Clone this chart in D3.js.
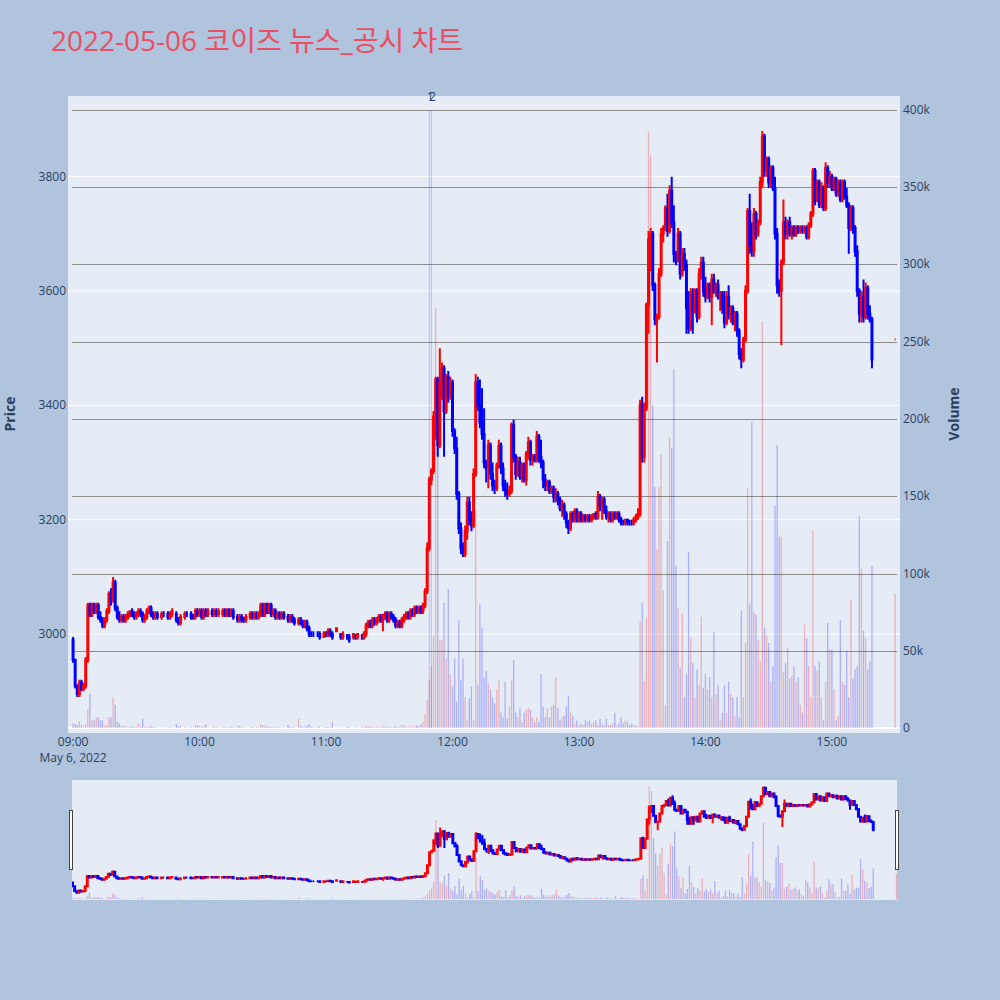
<!DOCTYPE html>
<html>
<head>
<meta charset="utf-8">
<script src="https://cdn.jsdelivr.net/npm/d3@7"></script>
<style>
  body { margin: 0; background: #b0c4de; }
  text { font-family: 'Open Sans', 'Noto Sans CJK KR', sans-serif; }
</style>
</head>
<body>
<script>

// Minute candles from 09:00 (index 0) to 15:19, null = no trade in that minute

var opens = [
	2990,2955,2910,2895,2915,2905,2910,2955,3050,3035,
	3050,3040,3050,3030,3025,3015,3025,3040,3070,3060,
	3090,3045,3030,3025,3030,3025,3030,3035,3040,3035,
	3030,3035,3040,3035,3025,3030,3040,3045,3035,3030,
	3035,null,3030,3035,null,3035,3030,3035,null,3035,
	3025,3020,null,3030,3035,null,3035,3030,3030,3040,
	3035,3040,3030,3040,3035,null,3040,3035,3040,3035,
	null,3035,3040,3035,3040,3035,3040,null,3030,3025,
	3030,3025,3025,null,3030,3035,3030,3035,3030,3035,
	3050,3035,3050,3040,3050,3035,3040,3030,3035,3030,
	3035,null,3030,3025,3030,3025,null,3020,3025,3020,
	3015,3020,3010,3000,3000,null,3000,3000,null,2995,
	3000,3000,3005,3000,null,3005,null,3000,2995,null,
	2995,2995,null,2995,2995,2995,null,2995,2995,3000,
	3015,3020,3015,3025,3020,3025,3030,3025,3030,3035,
	3025,3035,3030,3025,3015,3020,3015,3025,3030,3035,
	3030,3040,3035,3045,3040,3045,3040,3050,3075,3150,
	3270,3285,3380,3445,3330,3440,3465,3390,3450,3415,
	3440,3355,3325,3245,3185,3150,3140,3180,3230,3200,
	3190,3280,3440,3400,3370,3350,3300,3290,3330,3280,
	3260,3255,3295,3330,3290,3260,3250,3245,3250,3365,
	3310,3280,3300,3275,3295,3270,3315,3335,3305,3310,
	3305,3345,3310,3300,3270,3260,3265,3250,3255,3240,
	3245,3235,3220,3225,3210,3195,3185,3210,3200,3215,
	3205,3210,3200,3205,3200,3205,3200,3205,3210,3205,
	3240,3225,3235,3215,3205,3210,3200,3210,3205,3210,
	3200,3195,3195,3200,3195,3195,3195,3200,3205,3210,
	3400,3310,3395,3575,3690,3700,3610,3550,3555,3630,
	3700,3710,3745,3705,3775,3720,3665,3655,3700,3630,
	3665,3645,3570,3535,3595,3565,3600,3555,3630,3650,
	3600,3590,3610,3590,3620,3600,3610,3590,3595,3570,
	3545,3590,3560,3570,3545,3560,3530,3490,3480,3515,
	3600,3740,3680,3670,3735,3700,3720,3790,3870,3810,
	3830,3790,3815,3780,3700,3610,3600,3650,3720,3700,
	3720,3700,3710,3700,3710,3705,3710,3705,3710,3695,
	3715,3735,3810,3760,3790,3750,3780,3745,3815,3790,
	3800,3780,3795,3770,3790,3760,3790,3765,3750,3710,
	3745,3710,3670,3600,3560,3590,3555,3605,3560,3550
];

var highs = [
	2995,2955,2910,2920,2920,2915,2960,3055,3055,3055,
	3055,3055,3055,3040,3030,3030,3045,3075,3080,3100,
	3095,3050,3040,3035,3035,3035,3040,3040,3045,3040,
	3040,3045,3045,3040,3035,3045,3050,3050,3040,3040,
	3040,null,3040,3040,null,3040,3040,3045,null,3040,
	3030,3035,null,3040,3040,null,3040,3035,3045,3045,
	3045,3045,3045,3045,3045,null,3045,3045,3045,3045,
	null,3045,3045,3045,3045,3045,3045,null,3035,3035,
	3035,3030,3035,null,3040,3040,3040,3040,3040,3055,
	3055,3055,3055,3055,3055,3045,3045,3040,3040,3040,
	3040,null,3035,3035,3035,3030,null,3030,3030,3025,
	3025,3025,3015,3005,3005,null,3005,3005,null,3005,
	3005,3010,3010,3005,null,3010,null,3000,3005,null,
	3000,3000,null,3000,3000,3000,null,3000,3005,3020,
	3025,3025,3030,3030,3030,3035,3035,3035,3040,3040,
	3040,3040,3035,3030,3025,3025,3030,3035,3040,3040,
	3045,3045,3050,3050,3050,3050,3055,3080,3160,3275,
	3290,3390,3450,3450,3500,3475,3470,3455,3460,3450,
	3445,3360,3345,3250,3195,3160,3190,3240,3240,3215,
	3290,3455,3450,3445,3430,3395,3305,3340,3335,3300,
	3270,3300,3340,3335,3300,3270,3265,3260,3370,3375,
	3315,3310,3310,3300,3300,3320,3345,3340,3315,3315,
	3355,3350,3340,3305,3280,3270,3270,3260,3260,3255,
	3250,3240,3235,3230,3215,3200,3215,3215,3220,3220,
	3215,3215,3210,3210,3210,3210,3210,3210,3215,3250,
	3245,3240,3240,3225,3215,3215,3215,3215,3215,3215,
	3205,3200,3200,3200,3200,3200,3205,3210,3220,3410,
	3415,3405,3580,3705,3710,3705,3615,3560,3640,3710,
	3715,3750,3770,3785,3800,3750,3670,3710,3705,3675,
	3675,3655,3600,3605,3605,3605,3605,3640,3660,3660,
	3625,3615,3615,3630,3630,3615,3620,3600,3600,3600,
	3600,3610,3575,3575,3565,3565,3535,3500,3520,3610,
	3745,3770,3720,3745,3740,3725,3800,3880,3875,3835,
	3835,3820,3820,3800,3710,3620,3655,3760,3730,3725,
	3730,3715,3715,3715,3715,3715,3715,3715,3715,3720,
	3740,3815,3815,3795,3795,3790,3785,3825,3820,3810,
	3805,3800,3800,3795,3795,3795,3795,3780,3755,3750,
	3750,3715,3680,3605,3600,3620,3615,3610,3575,3555
];

var lows = [
	2950,2905,2890,2890,2900,2900,2905,2950,3030,3030,
	3035,3035,3025,3020,3010,3010,3020,3035,3050,3055,
	3040,3025,3020,3020,3020,3020,3025,3030,3030,3025,
	3025,3030,3030,3020,3020,3025,3035,3030,3025,3025,
	3025,null,3025,3030,null,3025,3025,3030,null,3020,
	3015,3015,null,3025,3030,null,3025,3025,3025,3030,
	3030,3025,3025,3030,3030,null,3030,3030,3030,3030,
	null,3030,3030,3030,3030,3030,3025,null,3020,3020,
	3020,3020,3020,null,3025,3025,3025,3025,3025,3030,
	3030,3030,3035,3035,3030,3030,3025,3025,3025,3025,
	3025,null,3020,3020,3020,3015,null,3015,3015,3010,
	3010,3005,2995,2995,2995,null,2995,2990,null,2995,
	2995,2995,2995,2990,null,3005,null,2990,2990,null,
	2990,2985,null,2990,2990,2990,null,2990,2990,2995,
	3010,3010,3010,3015,3015,3020,3020,3005,3025,3020,
	3020,3025,3020,3010,3010,3010,3010,3020,3025,3025,
	3025,3030,3030,3035,3035,3035,3035,3045,3070,3145,
	3260,3280,3340,3310,3325,3410,3310,3385,3405,3410,
	3345,3315,3235,3175,3140,3135,3135,3165,3190,3180,
	3185,3275,3390,3360,3340,3290,3265,3255,3270,3250,
	3245,3250,3290,3280,3250,3240,3235,3240,3245,3300,
	3270,3275,3270,3265,3265,3260,3305,3295,3295,3300,
	3300,3300,3290,3255,3250,3250,3245,3245,3230,3230,
	3225,3215,3205,3200,3185,3175,3180,3195,3195,3195,
	3195,3195,3195,3195,3195,3195,3195,3200,3200,3200,
	3215,3200,3210,3200,3195,3195,3195,3200,3200,3195,
	3190,3190,3190,3190,3190,3190,3190,3195,3200,3205,
	3300,3300,3390,3525,3635,3600,3540,3475,3550,3625,
	3685,3705,3695,3700,3710,3650,3645,3650,3620,3625,
	3635,3525,3525,3530,3525,3560,3545,3550,3620,3590,
	3580,3585,3580,3540,3595,3590,3585,3565,3560,3535,
	3540,3550,3545,3540,3530,3520,3480,3465,3475,3510,
	3595,3665,3660,3660,3690,3695,3715,3780,3800,3800,
	3780,3780,3775,3690,3595,3590,3505,3645,3690,3690,
	3695,3690,3695,3695,3700,3700,3700,3700,3690,3690,
	3710,3730,3750,3755,3745,3745,3740,3740,3780,3780,
	3775,3775,3765,3765,3755,3755,3760,3745,3665,3705,
	3700,3660,3590,3545,3545,3545,3550,3550,3545,3465
];

var closes = [
	2955,2910,2895,2915,2905,2910,2955,3050,3035,3050,
	3040,3050,3030,3025,3015,3025,3040,3070,3060,3090,
	3045,3030,3025,3030,3025,3030,3035,3040,3035,3030,
	3035,3040,3035,3025,3030,3040,3045,3035,3030,3035,
	3030,null,3035,3035,null,3030,3035,3040,null,3025,
	3020,3030,null,3035,3035,null,3030,3030,3040,3035,
	3040,3030,3040,3035,3040,null,3035,3040,3035,3040,
	null,3040,3035,3040,3035,3040,3030,null,3025,3030,
	3025,3025,3030,null,3035,3030,3035,3030,3035,3050,
	3035,3050,3040,3050,3035,3040,3030,3035,3030,3035,
	3030,null,3025,3030,3025,3020,null,3025,3020,3015,
	3020,3010,3000,3000,3000,null,3000,2995,null,3000,
	3000,3005,3000,2995,null,3010,null,2995,3000,null,
	2995,2990,null,3000,2995,3000,null,2995,3000,3015,
	3020,3015,3025,3020,3025,3030,3025,3030,3035,3025,
	3035,3030,3025,3015,3020,3015,3025,3030,3035,3030,
	3040,3035,3045,3040,3045,3040,3050,3075,3150,3270,
	3285,3380,3445,3330,3440,3465,3390,3450,3415,3440,
	3355,3325,3245,3185,3150,3140,3180,3230,3200,3190,
	3280,3440,3400,3370,3350,3300,3290,3330,3280,3260,
	3255,3295,3330,3290,3260,3250,3245,3250,3365,3310,
	3280,3300,3275,3295,3270,3315,3335,3305,3310,3305,
	3345,3310,3300,3270,3260,3265,3250,3255,3240,3245,
	3235,3220,3225,3210,3195,3185,3210,3200,3215,3205,
	3210,3200,3205,3200,3205,3200,3205,3210,3205,3240,
	3225,3235,3215,3205,3210,3200,3210,3205,3210,3200,
	3195,3195,3200,3195,3195,3195,3200,3205,3210,3400,
	3310,3395,3575,3690,3700,3610,3550,3555,3630,3700,
	3710,3745,3705,3775,3720,3665,3655,3700,3630,3665,
	3645,3570,3535,3595,3565,3600,3555,3630,3650,3600,
	3590,3610,3590,3620,3600,3610,3590,3595,3570,3545,
	3590,3560,3570,3545,3560,3530,3490,3480,3515,3600,
	3740,3680,3670,3735,3700,3720,3790,3870,3810,3830,
	3790,3815,3780,3700,3610,3600,3650,3720,3700,3720,
	3700,3710,3700,3710,3705,3710,3705,3710,3695,3715,
	3735,3810,3760,3790,3750,3780,3745,3815,3790,3800,
	3780,3795,3770,3790,3760,3790,3765,3750,3710,3745,
	3710,3670,3600,3560,3590,3555,3605,3560,3550,3480
];

var volumes = [
	3000,2500,2000,4000,2000,1000,2500,12000,22000,5000,
	5000,7000,7000,5000,5000,1500,2000,7000,7000,20000,
	15000,4000,3000,1500,1200,800,1000,600,1200,800,
	900,3000,1000,6000,1000,800,700,1500,900,600,
	500,null,400,300,null,600,500,700,null,2500,
	1200,1500,null,800,400,null,600,300,1800,2000,
	1500,900,1200,2500,700,null,500,900,400,600,
	null,800,500,400,600,900,700,null,1200,1500,
	600,400,500,null,800,600,700,500,900,2500,
	1800,1500,1200,1000,800,600,700,500,600,400,
	500,null,1800,900,600,500,null,6000,1200,800,
	1000,1500,2500,800,600,null,700,900,null,500,
	600,700,500,4000,null,300,null,500,400,null,
	600,900,null,400,500,300,null,600,800,1500,
	1200,800,1000,600,700,1200,500,1500,900,1100,
	600,500,800,1200,700,900,2000,1500,800,600,
	1200,900,1500,1800,1200,2500,4000,9000,18000,31000,
	40000,60000,272000,184000,57000,57000,81000,45000,90000,35000,
	27000,45000,17000,70000,31000,45000,20000,5000,19000,27000,
	5000,141000,28000,80000,65000,33000,37000,29000,25000,20000,
	16000,25000,31000,10000,7000,30000,6000,14000,31000,44000,
	10000,7000,13000,4000,10000,12000,13000,12000,7000,4000,
	7000,4000,35000,14000,7000,13000,7000,14000,15000,33000,
	13000,5000,7000,8000,14000,21000,10000,8000,3000,5000,
	2000,3000,2000,5000,4000,5000,3000,4000,5000,2000,
	6000,3000,2000,6000,2000,2000,3000,10000,2000,3000,
	7000,3000,5000,4000,2000,3000,2000,2000,1000,69000,
	81000,30000,71000,386000,371000,209000,156000,116000,156000,177000,
	89000,15000,121000,188000,181000,232000,105000,78000,39000,74000,
	20000,35000,114000,58000,42000,20000,38000,28000,72000,26000,
	35000,25000,33000,20000,62000,22000,28000,5000,10000,28000,
	10000,30000,22000,20000,8000,20000,7000,76000,20000,55000,
	155000,80000,198000,75000,73000,57000,43000,263000,65000,60000,
	55000,30000,40000,144000,183000,124000,124000,36000,42000,52000,
	32000,34000,40000,30000,33000,15000,10000,67000,58000,40000,
	20000,128000,40000,37000,43000,20000,5000,30000,68000,51000,
	51000,25000,5000,8000,70000,30000,28000,50000,20000,83000,
	32000,38000,40000,137000,103000,63000,58000,38000,43000,105000
];

// Closing auction
var auctionTime = '15:30';
var auctionOHLC = [3515, 3515, 3515, 3515];
var auctionVolume = 87000;

// News / disclosure markers
var newsTimes = ['11:49', '11:50'];
var newsLabels = ['1', '2'];

var priceTicks = [3000, 3200, 3400, 3600, 3800];
var volumeTicks = [0, 50000, 100000, 150000, 200000, 250000, 300000, 350000, 400000];
var timeTicks = ['09:00', '10:00', '11:00', '12:00', '13:00', '14:00', '15:00'];

var RED = '#ff0000', BLUE = '#0000ff', INK = '#2a3f5f';

var parseT = d3.timeParse('%Y-%m-%d %H:%M');
function at(hm) { return parseT('2022-05-06 ' + hm); }

var t0 = at('09:00');
var rows = [];
closes.forEach(function(c, i) {
	if (c == null) return;
	rows.push({ t: d3.timeMinute.offset(t0, i), o: opens[i], h: highs[i], l: lows[i], c: c, v: volumes[i] });
});
rows.push({ t: at(auctionTime), o: auctionOHLC[0], h: auctionOHLC[1], l: auctionOHLC[2], c: auctionOHLC[3], v: auctionVolume });

// up if close > open; a flat candle follows the previous close
rows.forEach(function(d, i) {
	var up = d.c > d.o;
	if (d.c === d.o && i > 0) up = d.c > rows[i - 1].c;
	d.col = up ? RED : BLUE;
});

var svg = d3.select('body').append('svg')
	.attr('width', 1000)
	.attr('height', 1000);

svg.append('rect').attr('width', 1000).attr('height', 1000).attr('fill', '#b0c4de');

// Title
svg.append('text')
	.attr('x', 51).attr('y', 51)
	.attr('font-size', 28)
	.attr('fill', '#eb4d62')
	.text('2022-05-06 코이즈 뉴스_공시 차트');

// Main plot

var L = 68, R = 900, T = 96, B = 733;

var x = d3.scaleTime()
	.domain([d3.timeSecond.offset(t0, -144), d3.timeSecond.offset(at('15:30'), 138)])
	.range([L, R]);
var yP = d3.scaleLinear().domain([2827, 3941]).range([B, T]);
var yV = d3.scaleLinear().domain([-3200, 409000]).range([B, T]);

svg.append('rect')
	.attr('x', L).attr('y', T)
	.attr('width', R - L).attr('height', B - T)
	.attr('fill', '#e5ecf6');

var defs = svg.append('defs');
defs.append('clipPath').attr('id', 'clipMain')
	.append('rect').attr('x', L).attr('y', T).attr('width', R - L).attr('height', B - T);
defs.append('clipPath').attr('id', 'clipSlider')
	.append('rect').attr('x', 72).attr('y', 780).attr('width', 825).attr('height', 120);

svg.append('g').selectAll('line')
	.data(priceTicks).enter().append('line')
	.attr('x1', L).attr('x2', R)
	.attr('y1', function(d) { return yP(d); })
	.attr('y2', function(d) { return yP(d); })
	.attr('stroke', '#fff').attr('stroke-width', 1);

svg.append('g').selectAll('line')
	.data(volumeTicks.slice(1)).enter().append('line')
	.attr('x1', L + 4).attr('x2', R - 3)
	.attr('y1', function(d) { return Math.round(yV(d)) + 0.5; })
	.attr('y2', function(d) { return Math.round(yV(d)) + 0.5; })
	.attr('stroke', '#8c8c8c').attr('stroke-width', 1);

svg.append('line')
	.attr('x1', L).attr('x2', R)
	.attr('y1', yV(0)).attr('y2', yV(0))
	.attr('stroke', '#fff').attr('stroke-width', 2);

function candlePath(xs, yp) {
	return function(d) {
		var cx = xs(d.t), top = yp(Math.max(d.o, d.c)), bot = yp(Math.min(d.o, d.c));
		return 'M' + cx + ',' + yp(d.h) + 'V' + top +
			'M' + (cx - 0.5) + ',' + top + 'H' + (cx + 0.5) + 'V' + bot + 'H' + (cx - 0.5) + 'Z' +
			'M' + cx + ',' + bot + 'V' + yp(d.l);
	};
}

function drawTraces(g, xs, yp, yv, bw) {
	g.selectAll('rect.vol')
		.data(rows).enter().append('rect')
		.attr('class', 'vol')
		.attr('x', function(d) { return xs(d.t) - bw / 2; })
		.attr('width', bw)
		.attr('y', function(d) { return yv(d.v); })
		.attr('height', function(d) { return yv(0) - yv(d.v); })
		.attr('fill', function(d) { return d.col; })
		.attr('opacity', 0.25);

	g.selectAll('path.candle')
		.data(rows).enter().append('path')
		.attr('class', 'candle')
		.attr('d', candlePath(xs, yp))
		.attr('fill', function(d) { return d.col; })
		.attr('stroke', function(d) { return d.col; })
		.attr('stroke-width', 2);
}

var main = svg.append('g').attr('clip-path', 'url(#clipMain)');
drawTraces(main, x, yP, yV, 1.3);

// news markers
main.selectAll('line.news')
	.data(newsTimes).enter().append('line')
	.attr('x1', function(d) { return x(at(d)); })
	.attr('x2', function(d) { return x(at(d)); })
	.attr('y1', yV(400000)).attr('y2', yV(0))
	.attr('stroke', 'rgba(40,70,230,0.22)').attr('stroke-width', 1.2);

svg.selectAll('text.news')
	.data(newsLabels).enter().append('text')
	.attr('x', function(d, i) { return x(at(newsTimes[i])) + 1; })
	.attr('y', 101)
	.attr('text-anchor', 'middle')
	.attr('font-size', 12)
	.attr('fill', INK)
	.text(function(d) { return d; });

// Axis labels
svg.selectAll('text.pt')
	.data(priceTicks).enter().append('text')
	.attr('x', 66)
	.attr('y', function(d) { return yP(d) + 4; })
	.attr('text-anchor', 'end')
	.attr('font-size', 12)
	.attr('fill', INK)
	.text(function(d) { return d; });

svg.selectAll('text.vt')
	.data(volumeTicks).enter().append('text')
	.attr('x', 903)
	.attr('y', function(d) { return yV(d) + 4; })
	.attr('font-size', 12)
	.attr('fill', INK)
	.text(function(d) { return d3.format('~s')(d); });

svg.selectAll('text.xt')
	.data(timeTicks).enter().append('text')
	.attr('x', function(d) { return x(at(d)); })
	.attr('y', 746)
	.attr('text-anchor', 'middle')
	.attr('font-size', 12)
	.attr('fill', INK)
	.text(function(d) { return d; });

svg.append('text')
	.attr('x', x(at(timeTicks[0]))).attr('y', 762)
	.attr('text-anchor', 'middle')
	.attr('font-size', 12)
	.attr('fill', INK)
	.text(d3.timeFormat('%b %-d, %Y')(t0));

svg.append('text')
	.attr('transform', 'translate(14.5,414) rotate(-90)')
	.attr('text-anchor', 'middle')
	.attr('font-size', 14).attr('font-weight', 'bold')
	.attr('fill', INK)
	.text('Price');

svg.append('text')
	.attr('transform', 'translate(959,414) rotate(-90)')
	.attr('text-anchor', 'middle')
	.attr('font-size', 14).attr('font-weight', 'bold')
	.attr('fill', INK)
	.text('Volume');

// Range slider

var xs = d3.scaleTime().domain([t0, at(auctionTime)]).range([72.5, 896.5]);
var yPs = d3.scaleLinear().domain(yP.domain()).range([900, 780]);
var yVs = d3.scaleLinear().domain(yV.domain()).range([900, 780]);

svg.append('rect')
	.attr('x', 72).attr('y', 780)
	.attr('width', 825).attr('height', 120)
	.attr('fill', '#e5ecf6');

var slider = svg.append('g').attr('clip-path', 'url(#clipSlider)');
drawTraces(slider, xs, yPs, yVs, 1.3);

svg.selectAll('rect.handle')
	.data([69.5, 895.5]).enter().append('rect')
	.attr('x', function(d) { return d; })
	.attr('y', 810.5)
	.attr('width', 3).attr('height', 59)
	.attr('fill', '#fff')
	.attr('stroke', '#444').attr('stroke-width', 1);

</script>
</body>
</html>
